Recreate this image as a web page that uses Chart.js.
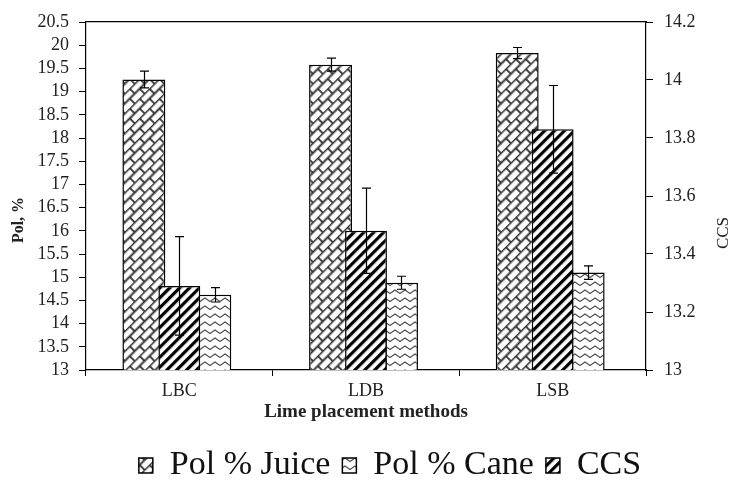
<!DOCTYPE html>
<html>
<head>
<meta charset="utf-8">
<script src="https://cdn.jsdelivr.net/npm/chart.js@4.4.1/dist/chart.umd.min.js"></script>
<style>
  html, body { margin: 0; padding: 0; background: #fff; }
</style>
</head>
<body>
<canvas id="polChart" width="750" height="480"></canvas>
<script>
const categories = ["LBC", "LDB", "LSB"];
const polJuice = [19.26, 19.58, 19.83];
const polJuiceErr = [0.18, 0.14, 0.12];
const polCane = [14.62, 14.88, 15.10];
const polCaneErr = [0.155, 0.14, 0.145];
const ccs = [13.29, 13.48, 13.83];
const ccsErr = [0.17, 0.147, 0.151];
const polTicks = [13, 13.5, 14, 14.5, 15, 15.5, 16, 16.5, 17, 17.5, 18, 18.5, 19, 19.5, 20, 20.5];
const ccsTicks = [13, 13.2, 13.4, 13.6, 13.8, 14, 14.2];

const SERIF = "'Liberation Serif', 'Times New Roman', serif";
const canvas = document.getElementById("polChart");
const ctx = canvas.getContext("2d");

// hatch fills, roughly like the Excel patterns in the original
function brickPattern() {
    const c = document.createElement("canvas");
    c.width = 14; c.height = 14;
    const g = c.getContext("2d");
    g.fillStyle = "#fff";
    g.fillRect(0, 0, 14, 14);
    g.strokeStyle = "#333";
    g.lineWidth = 1.8;
    g.beginPath();
    g.moveTo(0, 0.5); g.lineTo(14, 0.5);
    g.moveTo(0, 7.5); g.lineTo(14, 7.5);
    g.moveTo(1, 0); g.lineTo(1, 7.5);
    g.moveTo(8, 7.5); g.lineTo(8, 14);
    g.stroke();
    const p = ctx.createPattern(c, "repeat");
    p.setTransform(new DOMMatrix().rotate(-45));
    return p;
}

function stripePattern() {
    const c = document.createElement("canvas");
    c.width = 4; c.height = 7;
    const g = c.getContext("2d");
    g.fillStyle = "#fff";
    g.fillRect(0, 0, 4, 7);
    g.fillStyle = "#000";
    g.fillRect(0, 0, 4, 3.2);
    const p = ctx.createPattern(c, "repeat");
    p.setTransform(new DOMMatrix().rotate(-45));
    return p;
}

function wavePattern() {
    const c = document.createElement("canvas");
    c.width = 10; c.height = 8;
    const g = c.getContext("2d");
    g.fillStyle = "#fff";
    g.fillRect(0, 0, 10, 8);
    g.strokeStyle = "#555";
    g.lineWidth = 1.4;
    g.lineJoin = "round";
    g.beginPath();
    g.moveTo(-5, 2);
    g.lineTo(0, 5.5);
    g.lineTo(5, 2);
    g.lineTo(10, 5.5);
    g.lineTo(15, 2);
    g.stroke();
    return ctx.createPattern(c, "repeat");
}

const errorSets = [polJuiceErr, ccsErr, polCaneErr];
const legendOrder = [0, 2, 1];

// CCS bars sit on top of the juice bars, then the error bars
const overlayPlugin = {
    id: "overlay",
    afterLayout(chart) {
        // the original legend sits a little right of centre
        chart.legend.left += 15;
        chart.legend.right += 15;
    },
    beforeDatasetDraw(chart, args) {
        if (args.index === 1) return false;
    },
    afterDatasetsDraw(chart) {
        const c = chart.ctx;
        const area = chart.chartArea;
        c.save();
        c.beginPath();
        c.rect(area.left, area.top, area.right - area.left, area.bottom - area.top);
        c.clip();
        chart.getDatasetMeta(1).controller.draw();
        c.restore();

        c.save();
        c.strokeStyle = "#000";
        c.lineWidth = 1.2;
        chart.data.datasets.forEach((ds, i) => {
            const meta = chart.getDatasetMeta(i);
            const scale = chart.scales[ds.yAxisID];
            errorSets[i].forEach((e, j) => {
                const x = Math.round(meta.data[j].x) + 0.5;
                const yTop = scale.getPixelForValue(ds.data[j] + e);
                const yBot = scale.getPixelForValue(ds.data[j] - e);
                c.beginPath();
                c.moveTo(x, yTop); c.lineTo(x, yBot);
                c.moveTo(x - 4.5, yTop); c.lineTo(x + 4.5, yTop);
                c.moveTo(x - 4.5, yBot); c.lineTo(x + 4.5, yBot);
                c.stroke();
            });
        });
        c.restore();
    },
    afterDraw(chart) {
        const c = chart.ctx;
        c.save();
        c.fillStyle = "#222";
        c.textAlign = "center";
        c.textBaseline = "middle";
        c.translate(19, 220);
        c.rotate(-Math.PI / 2);
        c.font = "bold 16px " + SERIF;
        c.fillText("Pol, %", 0, 0);
        c.restore();
        c.save();
        c.fillStyle = "#222";
        c.textAlign = "center";
        c.textBaseline = "middle";
        c.translate(724, 233);
        c.rotate(-Math.PI / 2);
        c.font = "17px " + SERIF;
        c.fillText("CCS", 0, 0);
        c.restore();
    }
};

const tickFont = { family: SERIF, size: 18 };

new Chart(ctx, {
    type: "bar",
    data: {
        labels: categories,
        datasets: [
            {
                label: "Pol % Juice",
                data: polJuice,
                yAxisID: "y",
                backgroundColor: brickPattern(),
                borderColor: "#000",
                borderWidth: 1.5,
                categoryPercentage: 0.57,
                barPercentage: 1.21
            },
            {
                label: "CCS",
                data: ccs,
                yAxisID: "y1",
                backgroundColor: stripePattern(),
                borderColor: "#000",
                borderWidth: 1.5,
                categoryPercentage: 0.57,
                barPercentage: 1.18
            },
            {
                label: "Pol % Cane",
                data: polCane,
                yAxisID: "y",
                backgroundColor: wavePattern(),
                borderColor: "#000",
                borderWidth: 1.5,
                categoryPercentage: 0.57,
                barPercentage: 0.93
            }
        ]
    },
    options: {
        responsive: false,
        animation: false,
        layout: { padding: { top: 22, bottom: -12.5, left: 0, right: 0 } },
        plugins: {
            tooltip: { enabled: false },
            legend: {
                position: "bottom",
                labels: {
                    color: "#111",
                    font: { family: SERIF, size: 34 },
                    boxWidth: 14,
                    boxHeight: 15,
                    padding: 12,
                    sort: (a, b) => legendOrder.indexOf(a.datasetIndex) - legendOrder.indexOf(b.datasetIndex)
                }
            }
        },
        scales: {
            x: {
                position: "bottom",
                grid: { display: true, drawOnChartArea: false, tickLength: 6, color: "#000" },
                border: { color: "#000", width: 1.2 },
                ticks: { color: "#222", font: tickFont, padding: 4 },
                title: {
                    display: true,
                    text: "Lime placement methods",
                    color: "#222",
                    font: { family: SERIF, size: 19, weight: "bold" },
                    padding: { top: 0, bottom: 13 }
                },
                afterFit: s => { s.height = 66.5; }
            },
            x2: {
                position: "top",
                grid: { display: false },
                border: { color: "#000", width: 1.2 },
                ticks: { display: false },
                afterFit: s => { s.height = 0; }
            },
            y: {
                position: "left",
                min: 13,
                max: 20.5,
                grid: { display: true, drawOnChartArea: false, tickLength: 7, color: "#000" },
                border: { color: "#000", width: 1.2 },
                ticks: { color: "#222", font: tickFont, padding: 10, autoSkip: false, callback: v => String(v) },
                afterBuildTicks: s => { s.ticks = polTicks.map(v => ({ value: v })); },
                afterFit: s => { s.width = 86; }
            },
            y1: {
                position: "right",
                min: 13,
                max: 14.2,
                grid: { display: true, drawOnChartArea: false, tickLength: 7, color: "#000" },
                border: { color: "#000", width: 1.2 },
                ticks: { color: "#222", font: tickFont, padding: 11, autoSkip: false, callback: v => String(v) },
                afterBuildTicks: s => { s.ticks = ccsTicks.map(v => ({ value: v })); },
                afterFit: s => { s.width = 104; }
            }
        }
    },
    plugins: [overlayPlugin]
});
</script>
</body>
</html>
